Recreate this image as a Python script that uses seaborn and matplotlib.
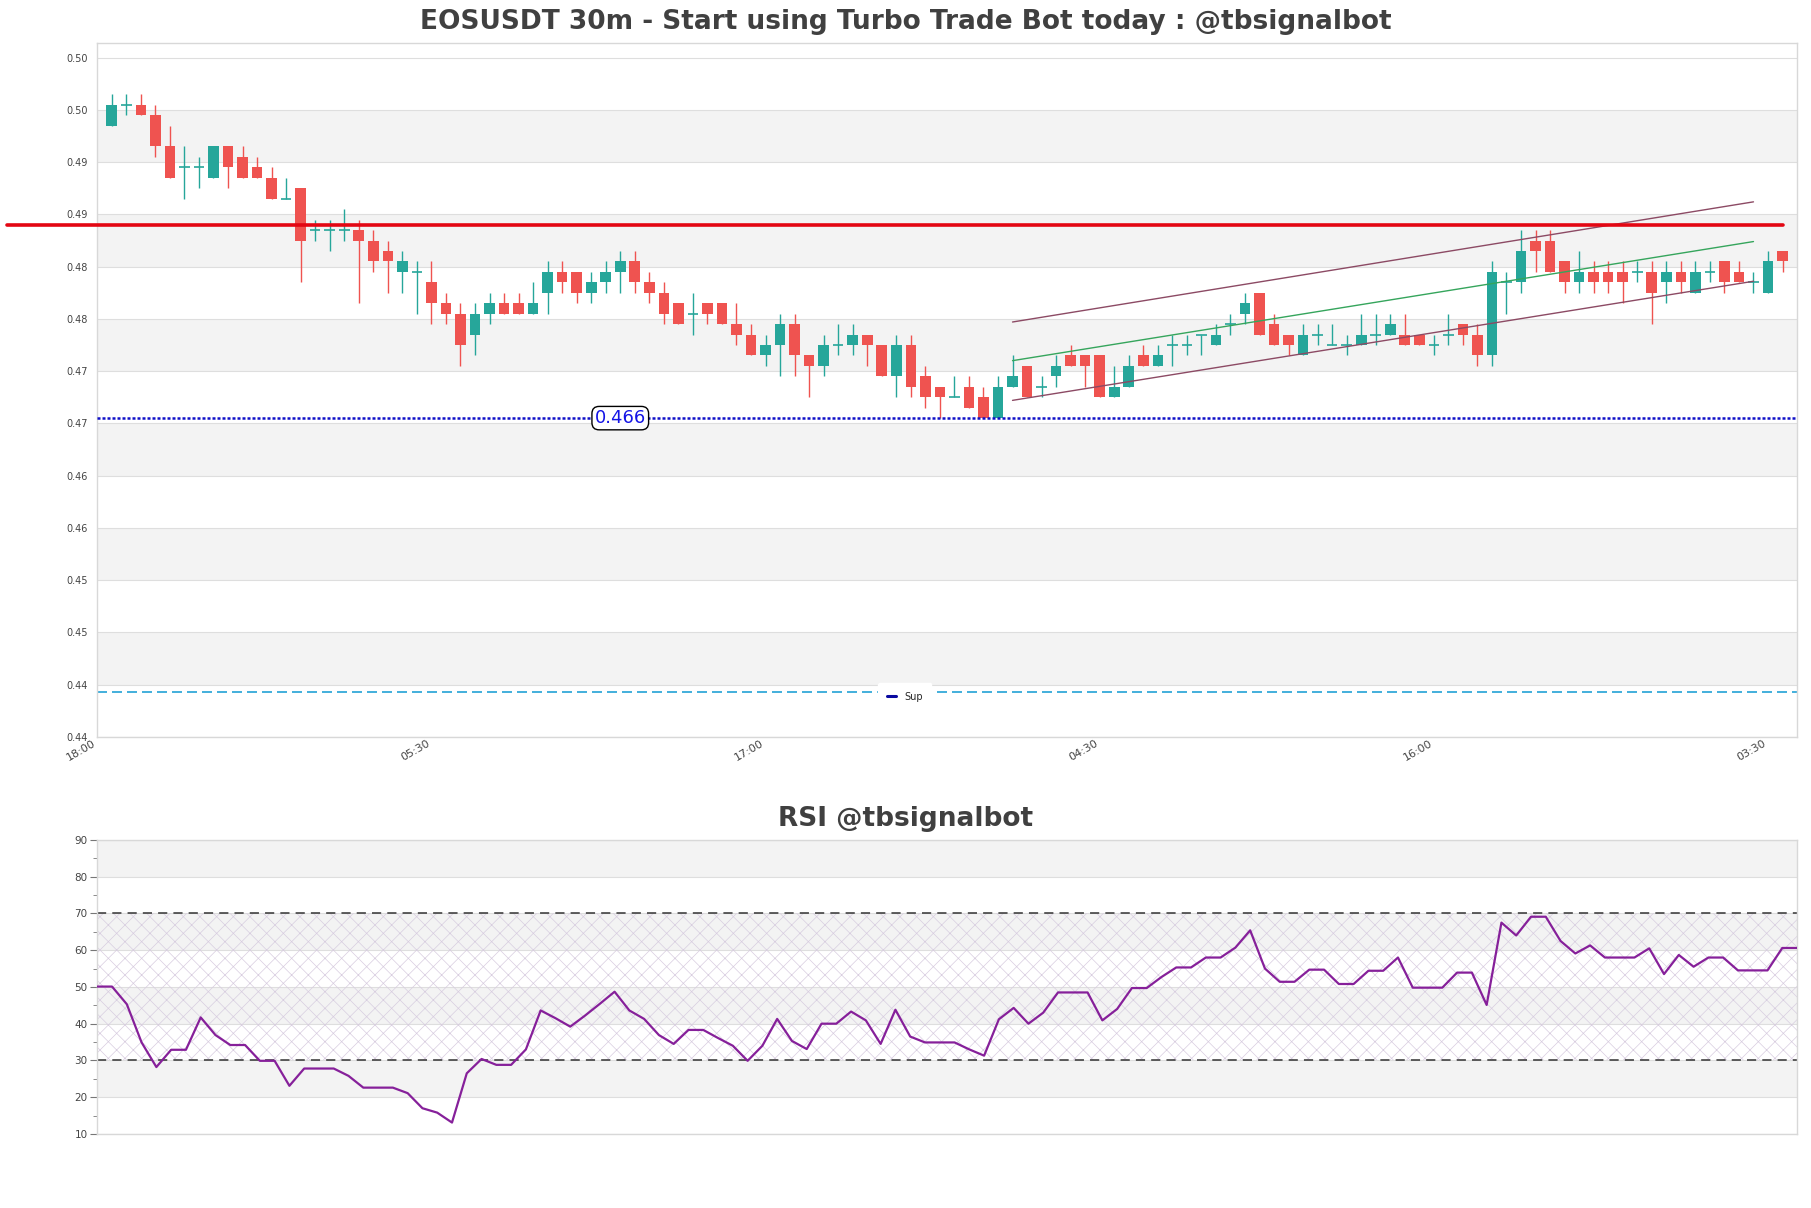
import numpy as np
import pandas as pd
import matplotlib
matplotlib.use('Agg')
import matplotlib.pyplot as plt
from matplotlib.lines import Line2D
from matplotlib.ticker import FormatStrFormatter, MultipleLocator
import seaborn as sns

# ---------------- data ----------------
opens = [0.494, 0.496, 0.496, 0.495, 0.492, 0.490, 0.490, 0.489, 0.492, 0.491,
         0.490, 0.489, 0.487, 0.488, 0.484, 0.484, 0.484, 0.484, 0.483, 0.482,
         0.480, 0.480, 0.479, 0.477, 0.476, 0.474, 0.476, 0.477, 0.477, 0.476,
         0.478, 0.480, 0.480, 0.478, 0.479, 0.480, 0.481, 0.479, 0.478, 0.477,
         0.476, 0.477, 0.477, 0.475, 0.474, 0.472, 0.473, 0.475, 0.472, 0.471,
         0.473, 0.473, 0.474, 0.473, 0.470, 0.473, 0.470, 0.469, 0.468, 0.469,
         0.468, 0.466, 0.469, 0.471, 0.469, 0.470, 0.472, 0.472, 0.472, 0.468,
         0.469, 0.472, 0.471, 0.473, 0.473, 0.474, 0.473, 0.475, 0.476, 0.478,
         0.475, 0.474, 0.472, 0.474, 0.473, 0.473, 0.473, 0.474, 0.474, 0.474,
         0.474, 0.473, 0.474, 0.475, 0.474, 0.472, 0.479, 0.479, 0.483, 0.483,
         0.481, 0.479, 0.480, 0.480, 0.480, 0.480, 0.480, 0.479, 0.480, 0.478,
         0.480, 0.481, 0.480, 0.479, 0.478, 0.482]
highs = [0.497, 0.497, 0.497, 0.496, 0.494, 0.492, 0.491, 0.492, 0.492, 0.492,
         0.491, 0.490, 0.489, 0.488, 0.485, 0.485, 0.486, 0.485, 0.484, 0.483,
         0.482, 0.481, 0.481, 0.478, 0.477, 0.477, 0.478, 0.478, 0.478, 0.479,
         0.481, 0.481, 0.480, 0.480, 0.481, 0.482, 0.482, 0.480, 0.479, 0.477,
         0.478, 0.477, 0.477, 0.477, 0.475, 0.474, 0.476, 0.476, 0.472, 0.474,
         0.475, 0.475, 0.474, 0.473, 0.474, 0.474, 0.471, 0.469, 0.470, 0.470,
         0.469, 0.470, 0.472, 0.471, 0.470, 0.472, 0.473, 0.472, 0.472, 0.471,
         0.472, 0.473, 0.473, 0.474, 0.474, 0.474, 0.475, 0.476, 0.478, 0.478,
         0.476, 0.474, 0.475, 0.475, 0.475, 0.474, 0.476, 0.476, 0.476, 0.476,
         0.474, 0.474, 0.476, 0.475, 0.475, 0.481, 0.480, 0.484, 0.484, 0.484,
         0.481, 0.482, 0.481, 0.481, 0.481, 0.481, 0.481, 0.481, 0.481, 0.481,
         0.481, 0.481, 0.481, 0.480, 0.482, 0.482]
lows = [0.494, 0.495, 0.495, 0.491, 0.489, 0.487, 0.488, 0.489, 0.488, 0.489,
        0.489, 0.487, 0.487, 0.479, 0.483, 0.482, 0.483, 0.477, 0.480, 0.478,
        0.478, 0.476, 0.475, 0.475, 0.471, 0.472, 0.475, 0.476, 0.476, 0.476,
        0.476, 0.478, 0.477, 0.477, 0.478, 0.478, 0.478, 0.477, 0.475, 0.475,
        0.474, 0.475, 0.475, 0.473, 0.472, 0.471, 0.470, 0.470, 0.468, 0.470,
        0.472, 0.472, 0.471, 0.470, 0.468, 0.468, 0.467, 0.466, 0.468, 0.467,
        0.466, 0.466, 0.469, 0.468, 0.468, 0.469, 0.471, 0.469, 0.468, 0.468,
        0.469, 0.471, 0.471, 0.471, 0.472, 0.472, 0.473, 0.474, 0.475, 0.474,
        0.473, 0.472, 0.472, 0.473, 0.473, 0.472, 0.473, 0.473, 0.474, 0.473,
        0.473, 0.472, 0.473, 0.473, 0.471, 0.471, 0.476, 0.478, 0.480, 0.480,
        0.478, 0.478, 0.478, 0.478, 0.477, 0.479, 0.475, 0.477, 0.478, 0.478,
        0.479, 0.478, 0.479, 0.478, 0.478, 0.480]
closes = [0.496, 0.496, 0.495, 0.492, 0.489, 0.490, 0.490, 0.492, 0.490, 0.489,
          0.489, 0.487, 0.487, 0.483, 0.484, 0.484, 0.484, 0.483, 0.481, 0.481,
          0.481, 0.480, 0.477, 0.476, 0.473, 0.476, 0.477, 0.476, 0.476, 0.477,
          0.480, 0.479, 0.478, 0.479, 0.480, 0.481, 0.479, 0.478, 0.476, 0.475,
          0.476, 0.476, 0.475, 0.474, 0.472, 0.473, 0.475, 0.472, 0.471, 0.473,
          0.473, 0.474, 0.473, 0.470, 0.473, 0.469, 0.468, 0.468, 0.468, 0.467,
          0.466, 0.469, 0.470, 0.468, 0.469, 0.471, 0.471, 0.471, 0.468, 0.469,
          0.471, 0.471, 0.472, 0.473, 0.473, 0.474, 0.474, 0.475, 0.477, 0.474,
          0.473, 0.473, 0.474, 0.474, 0.473, 0.473, 0.474, 0.474, 0.475, 0.473,
          0.473, 0.473, 0.474, 0.474, 0.472, 0.480, 0.479, 0.482, 0.482, 0.480,
          0.479, 0.480, 0.479, 0.479, 0.479, 0.480, 0.478, 0.480, 0.479, 0.480,
          0.480, 0.479, 0.479, 0.479, 0.481, 0.481]

rsi = [50.1, 50.1, 45.3, 34.9, 28.2, 32.9, 32.9, 41.7, 36.9, 34.2,
       34.2, 29.9, 29.9, 23.1, 27.8, 27.8, 27.8, 25.8, 22.6, 22.6,
       22.6, 21.1, 17.0, 15.8, 13.1, 26.5, 30.4, 28.8, 28.8, 33.0,
       43.6, 41.5, 39.2, 42.2, 45.4, 48.7, 43.6, 41.3, 36.9, 34.5,
       38.3, 38.3, 36.1, 34.0, 29.9, 34.0, 41.3, 35.3, 33.1, 40.0,
       40.0, 43.3, 40.9, 34.5, 43.8, 36.5, 34.9, 34.9, 34.9, 33.0,
       31.3, 41.2, 44.3, 40.0, 43.0, 48.5, 48.5, 48.5, 40.9, 44.0,
       49.7, 49.7, 52.7, 55.3, 55.3, 58.0, 58.0, 60.7, 65.4, 55.0,
       51.4, 51.4, 54.7, 54.7, 50.8, 50.8, 54.4, 54.4, 58.0, 49.8,
       49.8, 49.8, 53.9, 53.9, 45.1, 67.5, 64.0, 69.1, 69.1, 62.5,
       59.1, 61.3, 58.0, 58.0, 58.0, 60.5, 53.5, 58.7, 55.5, 58.0,
       58.0, 54.5, 54.5, 54.5, 60.6, 60.6]

tick_pos = [-1, 22, 45, 68, 91, 114]
tick_labels = ['18:00', '05:30', '17:00', '04:30', '16:00', '03:30']

resistance = 0.4845
res_span = [-7.2, 115]
support = 0.466
support_low = 0.4398
trend_x = [62, 113]
trend_upper = [0.4752, 0.4867]
trend_mid = [0.4715, 0.4829]
trend_lower = [0.4677, 0.4791]

df = pd.DataFrame({'open': opens, 'high': highs, 'low': lows, 'close': closes})
df['k'] = np.arange(len(df))
df['up'] = df['close'] >= df['open']

UP = '#26a69a'
DOWN = '#ef5350'
BAND = '#f3f3f3'
GRID = '#dedede'

sns.set_theme(style='white')
plt.rcParams['font.family'] = ['DejaVu Sans']
plt.rcParams['hatch.linewidth'] = 0.5

fig = plt.figure(figsize=(18.11, 12.08), dpi=100)
ax = fig.add_axes([0.0537, 0.3899, 0.9386, 0.5743])
ax2 = fig.add_axes([0.0537, 0.0613, 0.9386, 0.2434])

# ---------------- price panel ----------------
yt = 0.4355 + 0.005 * np.arange(14)
for i in range(1, 12, 2):
    ax.axhspan(yt[i], yt[i + 1], color=BAND, lw=0, zorder=0)
for v in yt:
    ax.axhline(v, color=GRID, lw=0.8, zorder=0.5)

w = 0.73
col = np.where(df['up'], UP, DOWN)
ax.vlines(df['k'], df['low'], df['high'], colors=col, lw=1.0, zorder=2)
body = df[df['open'] != df['close']]
ax.bar(body['k'], (body['close'] - body['open']).abs(),
       bottom=body[['open', 'close']].min(axis=1), width=w,
       color=np.where(body['up'], UP, DOWN), lw=0, zorder=3)
doji = df[df['open'] == df['close']]
ax.hlines(doji['open'], doji['k'] - w / 2, doji['k'] + w / 2, colors=UP, lw=1.2, zorder=3)

ax.plot(trend_x, trend_upper, color='#8c4a64', lw=1.0, zorder=4)
ax.plot(trend_x, trend_mid, color='#35a55c', lw=1.0, zorder=4)
ax.plot(trend_x, trend_lower, color='#8c4a64', lw=1.0, zorder=4)

ax.plot(res_span, [resistance, resistance], color='#e30613', lw=2.6, zorder=5, clip_on=False)
ax.axhline(support, color='#1010c8', lw=1.8, ls=(0, (1.2, 0.8)), zorder=5)
ax.axhline(support_low, color='#22a2d6', lw=1.2, ls=(0, (6, 3)), zorder=1)
ax.text(35, support, f'{support:.3f}', color='#1414e6', fontsize=13, ha='center', va='center',
        zorder=6, bbox=dict(boxstyle='round,pad=0.15,rounding_size=0.4', fc='white', ec='black', lw=1))

leg = ax.legend(handles=[Line2D([], [], color='#0a0aa0', lw=2.2)], labels=['Sup'],
                loc='center', bbox_to_anchor=(0.475, 0.058), fontsize=7, frameon=True,
                facecolor='white', edgecolor='white', framealpha=1, handlelength=1.0,
                borderpad=0.9, handletextpad=0.8)
leg.set_zorder(7)

ax.set_xlim(-1, 116)
ax.set_ylim(0.43548, 0.50188)
ax.set_yticks(yt)
ax.yaxis.set_major_formatter(FormatStrFormatter('%.2f'))
ax.set_xticks(tick_pos)
ax.set_xticklabels(tick_labels, rotation=30, ha='right')
ax.tick_params(axis='y', length=0, labelsize=7, labelcolor='#444444', pad=7)
ax.tick_params(axis='x', length=0, labelsize=8, labelcolor='#444444', pad=1)
for s in ax.spines.values():
    s.set_color('#d8d8d8')
    s.set_linewidth(1)

# ---------------- RSI panel ----------------
for lo in (20, 40, 60, 80):
    ax2.axhspan(lo, lo + 10, color=BAND, lw=0, zorder=0)
for v in range(10, 91, 10):
    ax2.axhline(v, color=GRID, lw=0.8, zorder=0.5)
ax2.fill_between([0, len(rsi) - 1], 30, 70, facecolor='none', edgecolor='#d8cde0',
                 hatch='xx', lw=0, zorder=0.6)
ax2.axhline(30, color='#333333', lw=1.1, ls=(0, (6, 4)), zorder=1)
ax2.axhline(70, color='#333333', lw=1.1, ls=(0, (6, 4)), zorder=1)
sns.lineplot(x=np.arange(len(rsi)), y=rsi, ax=ax2, color='#86209a', lw=1.6, zorder=3)

ax2.set_xlim(0, len(rsi) - 1)
ax2.set_ylim(10, 90)
ax2.yaxis.set_major_locator(MultipleLocator(10))
ax2.yaxis.set_minor_locator(MultipleLocator(5))
ax2.set_xticks([])
ax2.tick_params(axis='y', which='major', left=True, length=5, width=0.8, color='#777777',
                labelsize=7.5, labelcolor='#444444', pad=2)
ax2.tick_params(axis='y', which='minor', left=True, length=3, width=0.6, color='#777777')
for s in ax2.spines.values():
    s.set_color('#d8d8d8')
    s.set_linewidth(1)

fig.text(0.5, 0.9818, 'EOSUSDT 30m - Start using Turbo Trade Bot today : @tbsignalbot',
         ha='center', va='center', fontsize=19, fontweight='bold', color='#404040')
fig.text(0.5, 0.322, 'RSI @tbsignalbot', ha='center', va='center', fontsize=19,
         fontweight='bold', color='#404040')

fig.savefig('out.png', dpi=100)
